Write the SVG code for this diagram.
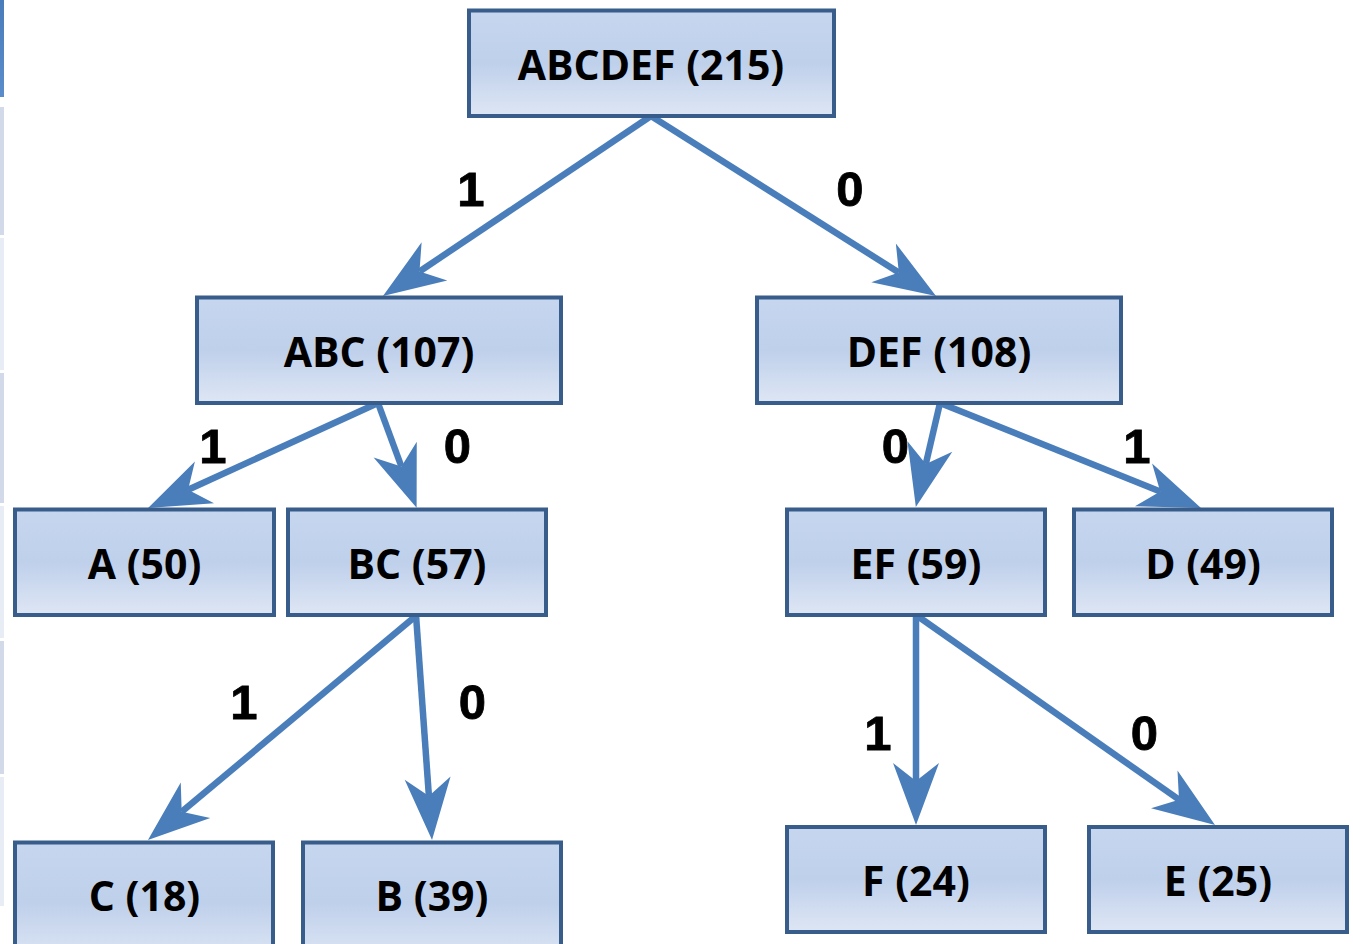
<svg xmlns="http://www.w3.org/2000/svg" width="1353" height="944" viewBox="0 0 1353 944">
<style>
.box{stroke:#385d8a;stroke-width:4;fill:url(#g)}
.nt{font-family:"Open Sans","Liberation Sans",sans-serif;font-weight:bold;font-size:41px;fill:#000;text-anchor:middle}
.lb{font-family:"Liberation Sans",Arial,sans-serif;font-weight:bold;font-size:49px;fill:#000;stroke:#000;stroke-width:0.8;text-anchor:middle}
.edge{stroke:#4a7ebb;stroke-width:6.5;fill:none;marker-end:url(#arr)}
.s1{fill:#d2dae9}
.s2{fill:#e8edf5}
</style>
<defs>
<linearGradient id="g" x1="0" y1="0" x2="0" y2="1">
<stop offset="0" stop-color="#c6d6ef"/>
<stop offset="0.5" stop-color="#bfd0eb"/>
<stop offset="1" stop-color="#dee6f4"/>
</linearGradient>
<linearGradient id="bl" x1="0" y1="0" x2="0" y2="1">
<stop offset="0" stop-color="#4a7cbb"/>
<stop offset="1" stop-color="#5a8ccb"/>
</linearGradient>
<marker id="arr" markerUnits="userSpaceOnUse" viewBox="-20 -24 66 48" refX="0" refY="0" markerWidth="66" markerHeight="48" orient="auto">
<path d="M44,0 L-18,-23 L0,0 L-18,23 Z" fill="#4a7ebb"/>
</marker>
</defs>
<rect width="1353" height="944" fill="#ffffff"/>
<g id="side-strip">
<rect x="0" y="0" width="4" height="97" fill="url(#bl)"/>
<rect class="s1" x="0" y="107" width="4" height="128"/>
<rect class="s2" x="0" y="238" width="4" height="132"/>
<rect class="s1" x="0" y="373" width="4" height="130"/>
<rect class="s2" x="0" y="506" width="4" height="132"/>
<rect class="s1" x="0" y="641" width="4" height="133"/>
<rect class="s2" x="0" y="777" width="4" height="129"/>
</g>
<g id="connectors">
<line class="edge" x1="651" y1="116" x2="419.5" y2="271.5"/>
<line class="edge" x1="651" y1="116" x2="898.8" y2="272.5"/>
<line class="edge" x1="378" y1="403" x2="188.1" y2="489.8"/>
<line class="edge" x1="378" y1="403" x2="401.4" y2="466.5"/>
<line class="edge" x1="940" y1="403" x2="925.8" y2="464.1"/>
<line class="edge" x1="940" y1="403" x2="1160.2" y2="491.5"/>
<line class="edge" x1="417" y1="615" x2="181.7" y2="811.8"/>
<line class="edge" x1="416" y1="615" x2="428.9" y2="796.1"/>
<line class="edge" x1="916" y1="615" x2="916" y2="781"/>
<line class="edge" x1="916" y1="615" x2="1179" y2="799.7"/>
</g>
<g id="edge-labels">
<text class="lb" x="471" y="206">1</text>
<text class="lb" x="850" y="206">0</text>
<text class="lb" x="213" y="463">1</text>
<text class="lb" x="457.5" y="463">0</text>
<text class="lb" x="895.5" y="463">0</text>
<text class="lb" x="1137" y="463">1</text>
<text class="lb" x="244" y="719">1</text>
<text class="lb" x="472.5" y="719">0</text>
<text class="lb" x="878" y="750">1</text>
<text class="lb" x="1144.5" y="750">0</text>
</g>
<g id="node-ABCDEF"><rect class="box" x="469" y="10.5" width="365" height="105.5"/><text class="nt" x="651" y="80">ABCDEF (215)</text></g>
<g id="node-ABC"><rect class="box" x="197" y="297.5" width="364" height="105.5"/><text class="nt" x="379" y="367">ABC (107)</text></g>
<g id="node-DEF"><rect class="box" x="757" y="297.5" width="364" height="105.5"/><text class="nt" x="939" y="367">DEF (108)</text></g>
<g id="node-A"><rect class="box" x="15" y="509.5" width="259" height="105.5"/><text class="nt" x="144.5" y="579">A (50)</text></g>
<g id="node-BC"><rect class="box" x="288" y="509.5" width="258" height="105.5"/><text class="nt" x="417" y="579">BC (57)</text></g>
<g id="node-EF"><rect class="box" x="787" y="509.5" width="258" height="105.5"/><text class="nt" x="916" y="579">EF (59)</text></g>
<g id="node-D"><rect class="box" x="1074" y="509.5" width="258" height="105.5"/><text class="nt" x="1203" y="579">D (49)</text></g>
<g id="node-C"><rect class="box" x="15" y="842.5" width="258" height="120"/><text class="nt" x="144.5" y="911">C (18)</text></g>
<g id="node-B"><rect class="box" x="303" y="842.5" width="258" height="120"/><text class="nt" x="432" y="911">B (39)</text></g>
<g id="node-F"><rect class="box" x="787" y="827" width="258" height="105"/><text class="nt" x="916" y="896">F (24)</text></g>
<g id="node-E"><rect class="box" x="1089" y="827" width="258" height="105"/><text class="nt" x="1218" y="896">E (25)</text></g>
</svg>
